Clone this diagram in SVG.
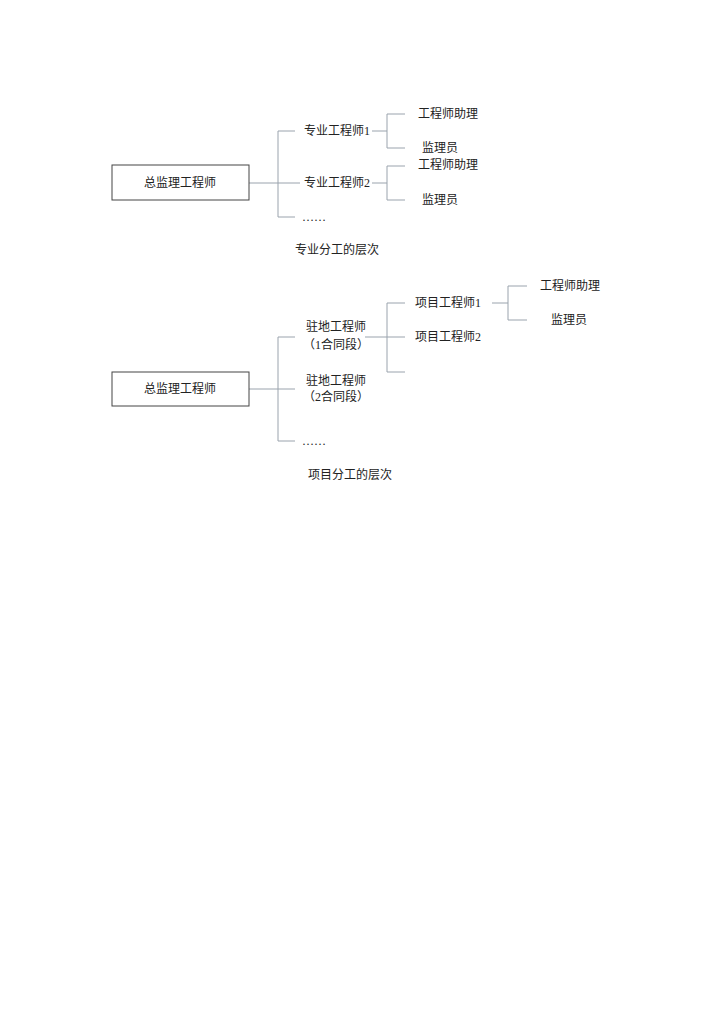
<svg xmlns="http://www.w3.org/2000/svg" width="724" height="1024" viewBox="0 0 724 1024">
<style>
text{font-family:"Liberation Serif","Noto Sans CJK SC",serif;font-size:12px;fill:#222;text-anchor:middle;dominant-baseline:central}
.c{fill:none;stroke:#9aa3ad;stroke-width:1}
.b{fill:#fff;stroke:#444;stroke-width:1}
</style>
<rect width="724" height="1024" fill="#fff"/>
<g id="connectors">
<path class="c" d="M249 183H300M295 131H278V217H295M372 131H387M405 114H387V148H405M372 183H387M405 166H387V200H405"/>
<path class="c" d="M249 389H295M295 337H278V441H295M365 337H405M405 303H387V372H405M492 303H508M527 286H508V320H527"/>
</g>
<g id="n1"><rect class="b" x="112" y="165" width="137" height="35"/><text x="180" y="183">总监理工程师</text></g>
<g id="n2"><text x="337" y="131">专业工程师1</text></g>
<g id="n3"><text x="337" y="183">专业工程师2</text></g>
<g id="n4"><text x="314" y="217" font-size="8">……</text></g>
<g id="n5"><text x="448" y="114">工程师助理</text></g>
<g id="n6"><text x="440" y="148">监理员</text></g>
<g id="n7"><text x="448" y="165">工程师助理</text></g>
<g id="n8"><text x="440" y="200">监理员</text></g>
<g id="cap1"><text x="337" y="250">专业分工的层次</text></g>
<g id="m1"><rect class="b" x="112" y="372" width="137" height="34"/><text x="180" y="389">总监理工程师</text></g>
<g id="m2"><text x="336" y="327">驻地工程师</text><text x="336" y="345">（1合同段）</text></g>
<g id="m3"><text x="336" y="381">驻地工程师</text><text x="336" y="397">（2合同段）</text></g>
<g id="m4"><text x="314" y="441" font-size="8">……</text></g>
<g id="m5"><text x="448" y="303">项目工程师1</text></g>
<g id="m6"><text x="448" y="337">项目工程师2</text></g>
<g id="m7"><text x="570" y="286">工程师助理</text></g>
<g id="m8"><text x="569" y="320">监理员</text></g>
<g id="cap2"><text x="350" y="475">项目分工的层次</text></g>
</svg>
